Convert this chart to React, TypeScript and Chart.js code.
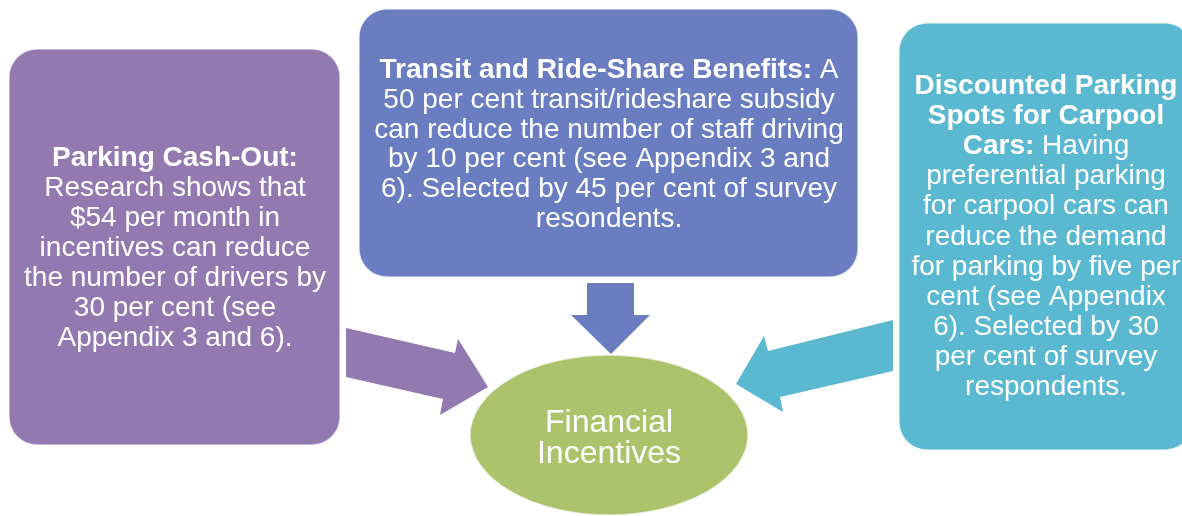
import React, { useEffect, useRef } from "react";
import { Chart, registerables } from "chart.js";

Chart.register(...registerables);

// ---- Content (text) ----
type Seg = [string, boolean];
const leftLines: Seg[][] = [
  [["Parking Cash-Out:", true]],
  [["Research shows that", false]],
  [["$54 per month in", false]],
  [["incentives can reduce", false]],
  [["the number of drivers by", false]],
  [["30 per cent (see", false]],
  [["Appendix 3 and 6).", false]],
];
const topLines: Seg[][] = [
  [["Transit and Ride-Share Benefits:", true], [" A", false]],
  [["50 per cent transit/rideshare subsidy", false]],
  [["can reduce the number of staff driving", false]],
  [["by 10 per cent (see Appendix 3 and", false]],
  [["6). Selected by 45 per cent of survey", false]],
  [["resondents.", false]],
];
const rightLines: Seg[][] = [
  [["Discounted Parking", true]],
  [["Spots for Carpool", true]],
  [["Cars:", true], [" Having", false]],
  [["preferential parking", false]],
  [["for carpool cars can", false]],
  [["reduce the demand", false]],
  [["for parking by five per", false]],
  [["cent (see Appendix", false]],
  [["6). Selected by 30", false]],
  [["per cent of survey", false]],
  [["respondents.", false]],
];
const centerLines: Seg[][] = [[["Financial", false]], [["Incentives", false]]];

// ---- Layout & style (diagram units = px of the 1182x516 frame) ----
const W = 1182;
const H = 516;
const FONT = '"Liberation Sans", Arial, sans-serif';
const boxes = [
  { x0: 9, y0: 49, x1: 340, y1: 445, r: 28, color: "#9279B0", lines: leftLines, cx: 175, base: 166, lh: 30, size: 28 },
  { x0: 359, y0: 9, x1: 858, y1: 277, r: 28, color: "#6A7DC0", lines: topLines, cx: 609, base: 78, lh: 29.8, size: 28 },
  { x0: 899, y0: 23, x1: 1193, y1: 450, r: 28, color: "#5BB8D1", lines: rightLines, cx: 1046, base: 94, lh: 30.1, size: 28 },
];
const ellipse = { cx: 609, cy: 435, rx: 139, ry: 80, color: "#ABC46C", lines: centerLines, base: 432, lh: 31, size: 32 };
const arrows = [
  { color: "#9279B0", pts: [[346, 328], [455, 353], [458, 339], [488, 387], [440, 415], [443, 399], [346, 377]] },
  { color: "#6A7DC0", pts: [[587, 283], [634, 283], [634, 315], [650, 315], [611, 354], [571, 315], [587, 315]] },
  { color: "#5BB8D1", pts: [[893, 320], [768, 351], [764, 336], [736, 384], [783, 412], [780, 397], [893, 371]] },
];

const diagramPlugin = {
  id: "diagram",
  beforeDatasetsDraw(chart: any) {
    const ctx: CanvasRenderingContext2D = chart.ctx;
    const sx = chart.scales.x;
    const sy = chart.scales.y;
    const px = (v: number) => sx.getPixelForValue(v);
    const py = (v: number) => sy.getPixelForValue(v);

    const drawLines = (lines: Seg[][], cx: number, base: number, lh: number, size: number) => {
      ctx.fillStyle = "#FFFFFF";
      ctx.textBaseline = "alphabetic";
      ctx.textAlign = "left";
      lines.forEach((line, i) => {
        let total = 0;
        const widths = line.map(([t, b]) => {
          ctx.font = `${b ? "bold " : ""}${size}px ${FONT}`;
          const w = ctx.measureText(t).width;
          total += w;
          return w;
        });
        let x = px(cx) - total / 2;
        const y = py(base + i * lh);
        line.forEach(([t, b], j) => {
          ctx.font = `${b ? "bold " : ""}${size}px ${FONT}`;
          ctx.fillText(t, x, y);
          x += widths[j];
        });
      });
    };

    ctx.save();
    // boxes
    boxes.forEach((bx) => {
      const x0 = px(bx.x0), x1 = px(bx.x1), y0 = py(bx.y0), y1 = py(bx.y1);
      ctx.beginPath();
      (ctx as any).roundRect(x0, y0, x1 - x0, y1 - y0, bx.r);
      ctx.fillStyle = bx.color;
      ctx.fill();
      ctx.lineWidth = 1.5;
      ctx.strokeStyle = "rgba(255,255,255,0.6)";
      ctx.stroke();
      drawLines(bx.lines, bx.cx, bx.base, bx.lh, bx.size);
    });
    // arrows
    arrows.forEach((a) => {
      ctx.beginPath();
      a.pts.forEach(([x, y], i) => (i === 0 ? ctx.moveTo(px(x), py(y)) : ctx.lineTo(px(x), py(y))));
      ctx.closePath();
      ctx.fillStyle = a.color;
      ctx.fill();
    });
    // ellipse
    ctx.beginPath();
    ctx.ellipse(px(ellipse.cx), py(ellipse.cy), Math.abs(px(ellipse.cx + ellipse.rx) - px(ellipse.cx)), Math.abs(py(ellipse.cy + ellipse.ry) - py(ellipse.cy)), 0, 0, Math.PI * 2);
    ctx.fillStyle = ellipse.color;
    ctx.fill();
    ctx.lineWidth = 1.5;
    ctx.strokeStyle = "rgba(255,255,255,0.6)";
    ctx.stroke();
    drawLines(ellipse.lines, ellipse.cx, ellipse.base, ellipse.lh, ellipse.size);
    ctx.restore();
  },
};

export default function App() {
  const ref = useRef<HTMLCanvasElement | null>(null);
  useEffect(() => {
    if (!ref.current) return;
    const chart = new Chart(ref.current, {
      type: "scatter",
      data: {
        datasets: [
          {
            data: [
              { x: ellipse.cx, y: ellipse.cy },
            ],
            pointRadius: 0,
          },
        ],
      },
      options: {
        animation: false,
        responsive: true,
        maintainAspectRatio: false,
        layout: { padding: 0 },
        plugins: { legend: { display: false }, tooltip: { enabled: false } },
        scales: {
          x: { type: "linear", min: 0, max: W, display: false },
          y: { type: "linear", min: 0, max: H, reverse: true, display: false },
        },
      },
      plugins: [diagramPlugin],
    });
    return () => chart.destroy();
  }, []);
  return (
    <div style={{ position: "fixed", left: 0, top: 0, width: W, height: H, background: "#FFFFFF" }}>
      <canvas ref={ref} />
    </div>
  );
}
